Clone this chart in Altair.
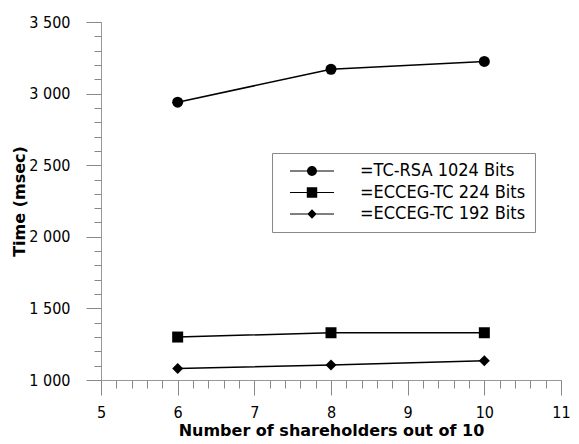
import altair as alt
import pandas as pd

shareholders = [6, 8, 10]
rsa_1024 = [2940, 3170, 3225]
ecceg_224 = [1300, 1330, 1330]
ecceg_192 = [1080, 1105, 1135]
series_names = ["=TC-RSA 1024 Bits", "=ECCEG-TC 224 Bits", "=ECCEG-TC 192 Bits"]
x_major = [5, 6, 7, 8, 9, 10, 11]
x_minor = [round(5 + i * 0.2, 1) for i in range(31)]
y_major = [1000, 1500, 2000, 2500, 3000, 3500]
y_minor = [1000 + i * 100 for i in range(26)]

rows = []
for name, vals in zip(series_names, [rsa_1024, ecceg_224, ecceg_192]):
    for n, v in zip(shareholders, vals):
        rows.append({"n": n, "time": v, "series": name})
df = pd.DataFrame(rows)

FONT = "DejaVu Sans Condensed"
TFONT = "DejaVu Sans"
xs = alt.Scale(domain=[5, 11], nice=False, zero=False)
ys = alt.Scale(domain=[1000, 3500], nice=False, zero=False)
label_expr = "replace(format(datum.value, ','), ',', ' ')"

base = alt.Chart(df)

lines = base.mark_line(color="black", strokeWidth=1.5).encode(
    x=alt.X("n:Q", scale=xs, axis=alt.Axis(
        values=x_major, title="Number of shareholders out of 10", tickSize=15,
        labelPadding=9, titlePadding=2, grid=False, labelFlush=False)),
    y=alt.Y("time:Q", scale=ys, axis=alt.Axis(
        values=y_major, title="Time (msec)", tickSize=15, labelPadding=16,
        labelExpr=label_expr, grid=False, titlePadding=1)),
    detail="series:N",
)

minor = base.mark_line(opacity=0).encode(
    x=alt.X("n:Q", scale=xs, axis=alt.Axis(
        values=x_minor, orient="bottom", tickSize=8, labels=False, domain=False,
        title=None, grid=False)),
    y=alt.Y("time:Q", scale=ys, axis=alt.Axis(
        values=y_minor, orient="left", tickSize=7, labels=False, domain=False,
        title=None, grid=False)),
    detail="series:N",
)

points = base.mark_point(filled=True, color="black", opacity=1, size=121).encode(
    x=alt.X("n:Q", scale=xs, axis=None),
    y=alt.Y("time:Q", scale=ys, axis=None),
    shape=alt.Shape("series:N", scale=alt.Scale(domain=series_names,
                    range=["circle", "square", "diamond"]), legend=None),
)

LINE = "M0,-0.09H8V0.09H0Z"
legend_paths = [
    LINE + "M4.9,0A0.9,0.9,0,1,1,3.1,0A0.9,0.9,0,1,1,4.9,0Z",
    LINE + "M3.05,-0.95H4.95V0.95H3.05Z",
    LINE + "M3.15,0L4,-0.85L4.85,0L4,0.85Z",
]
legend_layer = base.mark_point(filled=True, color="black", opacity=0).encode(
    x=alt.X("n:Q", scale=xs, axis=None),
    y=alt.Y("time:Q", scale=ys, axis=None),
    shape=alt.Shape("series:N", scale=alt.Scale(domain=series_names, range=legend_paths),
                    legend=alt.Legend(title=None, orient="none", legendX=171, legendY=131,
                                      symbolSize=121, symbolFillColor="black",
                                      labelOffset=61, rowPadding=3.5, padding=9,
                                      strokeColor="#888", fillColor="white",
                                      labelExpr="datum.label + '\u2003'", labelLimit=400,
                                      labelFontSize=18, labelFont=FONT, labelColor="black")),
)

chart = alt.layer(lines, minor, points, legend_layer).resolve_axis(
    x="independent", y="independent").resolve_scale(shape="independent").properties(
    width=460, height=358,
    autosize=alt.AutoSizeParams(type="none"),
    padding={"left": 93, "top": 14, "right": 10, "bottom": 66}
).configure_view(stroke=None).configure_axis(
    labelFont=FONT, titleFont=TFONT, labelFontSize=16, titleFontSize=16,
    labelColor="black", titleColor="black", domainColor="#999", tickColor="#888",
    titleFontWeight="bold"
)

chart.save("out.html", embed_options={"renderer": "svg", "actions": False})
